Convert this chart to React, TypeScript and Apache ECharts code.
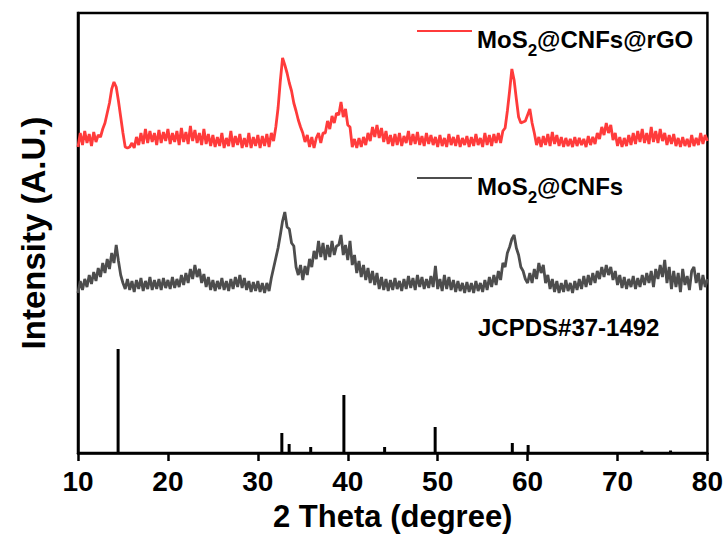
import React, { useEffect, useRef } from "react";
import * as echarts from "echarts";

// 2θ sampling grid: 10° to 80°, every 0.25°
const thetaStart = 10;
const thetaStep = 0.25;

// MoS2@CNFs@rGO intensities (a.u.), one row per degree (.00 .25 .50 .75)
const redValues = [
  306, 320, 308, 322, // 10
  310, 319, 307, 321, // 11
  311, 318, 316, 324, // 12
  330, 340, 350, 364, // 13
  371, 366, 352, 336, // 14
  320, 306, 305, 306, // 15
  310, 305, 316, 308, // 16
  320, 309, 324, 310, // 17
  322, 311, 320, 308, // 18
  323, 310, 321, 312, // 19
  324, 309, 320, 311, // 20
  322, 308, 325, 311, // 21
  321, 309, 327, 312, // 22
  323, 310, 320, 308, // 23
  324, 309, 319, 307, // 24
  318, 306, 316, 307, // 25
  320, 305, 315, 307, // 26
  322, 306, 317, 308, // 27
  319, 305, 315, 306, // 28
  320, 305, 316, 307, // 29
  318, 305, 317, 307, // 30
  319, 306, 320, 312, // 31
  326, 345, 372, 395, // 32
  388, 380, 370, 362, // 33
  350, 342, 333, 326, // 34
  320, 311, 318, 306, // 35
  316, 305, 315, 320, // 36
  310, 320, 320, 332, // 37
  324, 337, 330, 340, // 38
  338, 351, 336, 344, // 39
  328, 326, 306, 314, // 40
  305, 315, 306, 316, // 41
  308, 320, 312, 326, // 42
  316, 328, 315, 325, // 43
  311, 322, 309, 318, // 44
  307, 319, 308, 320, // 45
  307, 317, 310, 322, // 46
  308, 319, 309, 321, // 47
  308, 317, 307, 320, // 48
  309, 318, 308, 316, // 49
  306, 318, 307, 315, // 50
  306, 319, 308, 316, // 51
  307, 318, 306, 315, // 52
  308, 317, 306, 316, // 53
  307, 319, 308, 315, // 54
  306, 320, 308, 318, // 55
  307, 319, 310, 320, // 56
  310, 322, 325, 342, // 57
  362, 384, 373, 354, // 58
  336, 330, 331, 332, // 59
  338, 344, 330, 320, // 60
  308, 316, 306, 317, // 61
  308, 319, 307, 321, // 62
  309, 318, 307, 316, // 63
  306, 315, 307, 314, // 64
  306, 316, 307, 315, // 65
  308, 314, 306, 317, // 66
  308, 316, 309, 320, // 67
  314, 326, 318, 330, // 68
  320, 328, 313, 320, // 69
  307, 316, 306, 315, // 70
  307, 318, 308, 320, // 71
  309, 322, 311, 324, // 72
  310, 320, 309, 326, // 73
  311, 322, 310, 324, // 74
  312, 320, 308, 318, // 75
  309, 319, 307, 315, // 76
  306, 316, 307, 314, // 77
  306, 318, 307, 315, // 78
  308, 320, 309, 318, // 79
  312, // 80
];

// MoS2@CNFs intensities (a.u.)
const greyValues = [
  160, 172, 163, 174, // 10
  166, 178, 169, 181, // 11
  172, 185, 176, 190, // 12
  180, 194, 184, 200, // 13
  190, 208, 192, 178, // 14
  170, 164, 174, 163, // 15
  172, 161, 173, 164, // 16
  175, 162, 172, 164, // 17
  176, 163, 173, 164, // 18
  174, 163, 175, 165, // 19
  173, 164, 176, 165, // 20
  174, 166, 178, 168, // 21
  180, 170, 184, 174, // 22
  188, 176, 184, 170, // 23
  179, 166, 176, 163, // 24
  173, 162, 172, 164, // 25
  175, 163, 172, 162, // 26
  174, 164, 176, 166, // 27
  178, 165, 175, 163, // 28
  172, 161, 171, 162, // 29
  172, 161, 170, 160, // 30
  170, 162, 175, 185, // 31
  195, 205, 218, 232, // 32
  241, 226, 224, 210, // 33
  207, 186, 178, 188, // 34
  173, 187, 178, 194, // 35
  186, 202, 194, 212, // 36
  196, 210, 193, 208, // 37
  196, 212, 198, 207, // 38
  208, 218, 198, 208, // 39
  193, 212, 188, 198, // 40
  180, 192, 176, 188, // 41
  173, 185, 170, 182, // 42
  168, 180, 164, 176, // 43
  163, 174, 162, 173, // 44
  163, 175, 164, 172, // 45
  162, 174, 164, 177, // 46
  165, 175, 163, 178, // 47
  166, 176, 164, 174, // 48
  165, 177, 166, 187, // 49
  164, 174, 162, 178, // 50
  164, 176, 163, 173, // 51
  161, 172, 162, 170, // 52
  160, 171, 161, 170, // 53
  160, 172, 162, 170, // 54
  161, 173, 163, 176, // 55
  166, 178, 168, 182, // 56
  173, 190, 186, 200, // 57
  206, 214, 218, 205, // 58
  198, 186, 182, 174, // 59
  170, 180, 170, 184, // 60
  174, 190, 180, 188, // 61
  170, 178, 164, 174, // 62
  161, 172, 160, 170, // 63
  161, 173, 162, 170, // 64
  160, 172, 163, 174, // 65
  164, 177, 166, 178, // 66
  168, 180, 170, 182, // 67
  174, 186, 176, 188, // 68
  178, 186, 173, 182, // 69
  168, 178, 165, 176, // 70
  164, 174, 166, 177, // 71
  164, 175, 166, 178, // 72
  168, 180, 170, 182, // 73
  166, 184, 174, 188, // 74
  176, 193, 170, 186, // 75
  164, 182, 166, 180, // 76
  161, 184, 168, 177, // 77
  163, 182, 186, 170, // 78
  180, 163, 178, 166, // 79
  174, // 80
];

// JCPDS#37-1492 reference lines
const refPositions = [14.46, 32.67, 33.48, 35.88, 39.57, 44.1, 49.72, 58.3, 60.06, 72.7, 75.9];
const refIntensities = [104, 20, 9, 6, 58, 6, 26, 10, 8, 2.5, 2.5];

const xTicks = [10, 20, 30, 40, 50, 60, 70, 80];

const seriesNames = ["MoS2@CNFs@rGO", "MoS2@CNFs"];
const legendLabels: Record<string, string> = {
  "MoS2@CNFs@rGO": "{b|MoS}{s|2}{b|@CNFs@rGO}",
  "MoS2@CNFs": "{b|MoS}{s|2}{b|@CNFs}",
};

const FONT = "'Liberation Sans', Arial, Helvetica, sans-serif";

function toPairs(values: number[]) {
  return values.map((v, i) => [thetaStart + i * thetaStep, v]);
}

const richStyle = {
  b: {
    fontFamily: FONT,
    fontSize: 24,
    fontWeight: "bold",
    color: "#000",
    lineHeight: 24,
    padding: [8, 0, 0, 0],
    verticalAlign: "top",
  },
  s: {
    fontFamily: FONT,
    fontSize: 17,
    fontWeight: "bold",
    color: "#000",
    lineHeight: 17,
    padding: [23, 0, 0, 0],
    verticalAlign: "top",
  },
};

export default function App() {
  const ref = useRef<HTMLDivElement>(null);

  useEffect(() => {
    document.body.style.margin = "0";
    if (!ref.current) return;
    const chart = echarts.init(ref.current, null, { renderer: "svg" });

    const legendCommon = {
      orient: "horizontal",
      left: 417,
      padding: 0,
      icon: "rect",
      itemWidth: 55,
      itemHeight: 2,
      itemGap: 6,
      formatter: (name: string) => legendLabels[name] || name,
      textStyle: { rich: richStyle },
    };

    chart.setOption({
      animation: false,
      backgroundColor: "#fff",
      grid: {
        left: 78,
        right: 17,
        top: 13,
        bottom: 85,
        show: true,
        borderColor: "#000",
        borderWidth: 2.5,
        backgroundColor: "transparent",
      },
      legend: [
        { ...legendCommon, top: 19, data: [seriesNames[0]] },
        { ...legendCommon, top: 166, data: [seriesNames[1]] },
      ],
      xAxis: {
        type: "value",
        min: xTicks[0],
        max: xTicks[xTicks.length - 1],
        interval: 10,
        name: "2 Theta (degree)",
        nameLocation: "middle",
        nameGap: 48,
        nameTextStyle: { fontFamily: FONT, fontSize: 31, fontWeight: "bold", color: "#000" },
        axisLine: { show: true, lineStyle: { color: "#000", width: 2.5 } },
        axisTick: { show: true, inside: false, length: 8, lineStyle: { color: "#000", width: 2.5 } },
        axisLabel: { fontFamily: FONT, fontSize: 28, fontWeight: "bold", color: "#000", margin: 14 },
        splitLine: { show: false },
      },
      yAxis: {
        type: "value",
        min: 0,
        max: 440,
        name: "Intensity (A.U.)",
        nameLocation: "middle",
        nameGap: 28,
        nameRotate: 90,
        nameTextStyle: { fontFamily: FONT, fontSize: 33, fontWeight: "bold", color: "#000" },
        axisLine: { show: true, lineStyle: { color: "#000", width: 2.5 } },
        axisTick: { show: false },
        axisLabel: { show: false },
        splitLine: { show: false },
      },
      series: [
        {
          name: seriesNames[0],
          type: "line",
          data: toPairs(redValues),
          showSymbol: false,
          symbol: "none",
          lineStyle: { color: "#ff3b3b", width: 2.8 },
          itemStyle: { color: "#ff3b3b" },
        },
        {
          name: seriesNames[1],
          type: "line",
          data: toPairs(greyValues),
          showSymbol: false,
          symbol: "none",
          lineStyle: { color: "#4d4d4d", width: 2.8 },
          itemStyle: { color: "#4d4d4d" },
        },
        {
          name: "JCPDS#37-1492",
          type: "custom",
          data: refPositions.map((p, i) => [p, refIntensities[i]]),
          encode: { x: 0, y: 1 },
          renderItem: (params: any, api: any) => {
            const x = api.value(0);
            const y = api.value(1);
            const p0 = api.coord([x, 0]);
            const p1 = api.coord([x, y]);
            return {
              type: "line",
              shape: { x1: p0[0], y1: p0[1], x2: p1[0], y2: p1[1] },
              style: { stroke: "#000", lineWidth: 3 },
            };
          },
        },
      ],
      graphic: [
        {
          type: "text",
          x: 478,
          y: 327,
          style: {
            text: "JCPDS#37-1492",
            fill: "#000",
            font: `bold 24px ${FONT}`,
            verticalAlign: "middle",
            align: "left",
          },
        },
      ],
    });

    return () => chart.dispose();
  }, []);

  return <div ref={ref} style={{ width: 726, height: 538 }} />;
}
